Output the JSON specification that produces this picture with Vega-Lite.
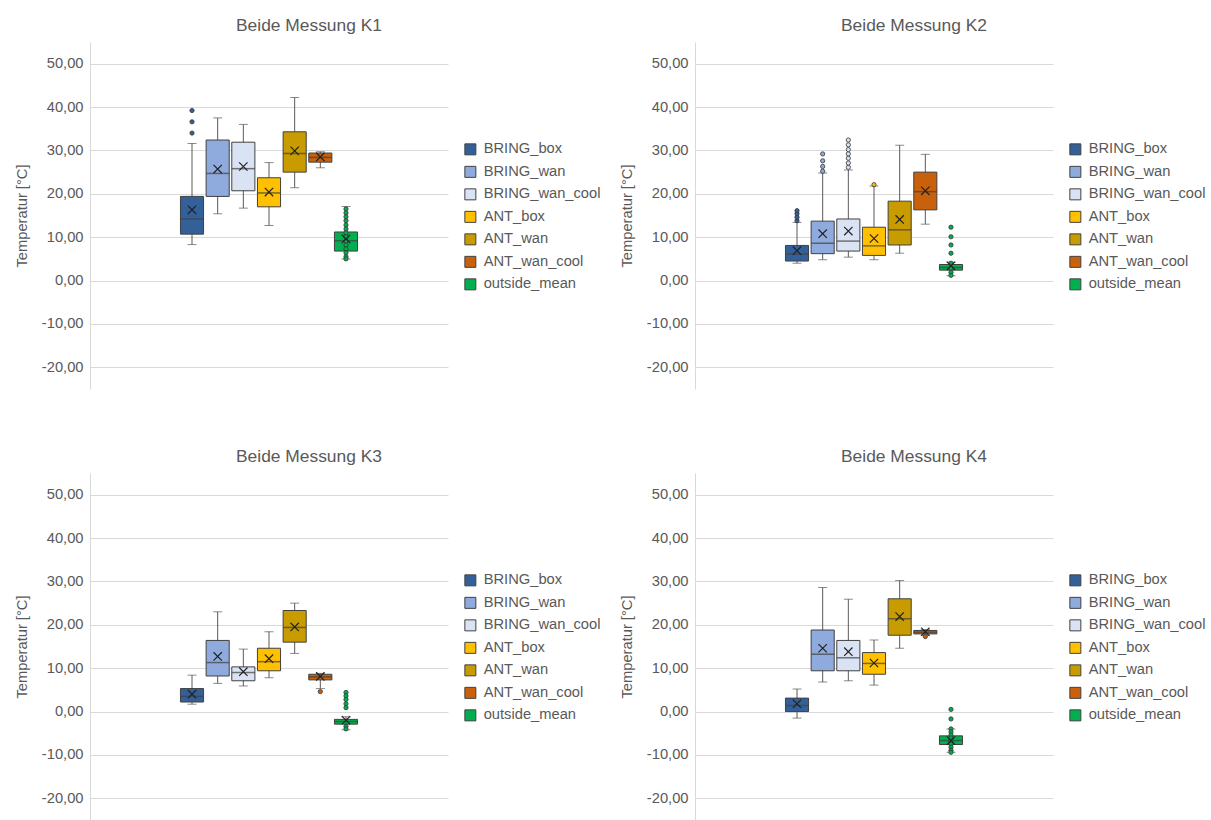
{
 "$schema": "https://vega.github.io/schema/vega-lite/v6.json",
 "padding": {"left": 14, "top": 16, "right": 0, "bottom": 0},
 "datasets": {
  "all": [
   {"panel":"K1","t":"box","series":"BRING_box","lo":8.3,"q1":10.7,"med":14.2,"q3":19.4,"hi":31.6,"mean":16.3},
   {"panel":"K1","t":"box","series":"BRING_wan","lo":15.4,"q1":19.4,"med":24.7,"q3":32.4,"hi":37.5,"mean":25.7},
   {"panel":"K1","t":"box","series":"BRING_wan_cool","lo":16.7,"q1":20.7,"med":25.8,"q3":31.9,"hi":36.0,"mean":26.3},
   {"panel":"K1","t":"box","series":"ANT_box","lo":12.7,"q1":17.0,"med":20.2,"q3":23.7,"hi":27.2,"mean":20.4},
   {"panel":"K1","t":"box","series":"ANT_wan","lo":21.4,"q1":25.0,"med":29.3,"q3":34.3,"hi":42.2,"mean":29.9},
   {"panel":"K1","t":"box","series":"ANT_wan_cool","lo":26.0,"q1":27.3,"med":28.4,"q3":29.4,"hi":29.7,"mean":28.5},
   {"panel":"K1","t":"box","series":"outside_mean","lo":5.0,"q1":6.8,"med":9.2,"q3":11.2,"hi":17.1,"mean":9.6},
   {"panel":"K1","t":"pt","series":"BRING_box","v":34.0},
   {"panel":"K1","t":"pt","series":"BRING_box","v":36.6},
   {"panel":"K1","t":"pt","series":"BRING_box","v":39.2},
   {"panel":"K1","t":"pt","series":"outside_mean","v":16.5},
   {"panel":"K1","t":"pt","series":"outside_mean","v":15.6},
   {"panel":"K1","t":"pt","series":"outside_mean","v":14.7},
   {"panel":"K1","t":"pt","series":"outside_mean","v":13.8},
   {"panel":"K1","t":"pt","series":"outside_mean","v":12.8},
   {"panel":"K1","t":"pt","series":"outside_mean","v":11.9},
   {"panel":"K1","t":"pt","series":"outside_mean","v":11.0},
   {"panel":"K1","t":"pt","series":"outside_mean","v":10.1},
   {"panel":"K1","t":"pt","series":"outside_mean","v":9.1},
   {"panel":"K1","t":"pt","series":"outside_mean","v":8.2},
   {"panel":"K1","t":"pt","series":"outside_mean","v":7.3},
   {"panel":"K1","t":"pt","series":"outside_mean","v":6.4},
   {"panel":"K1","t":"pt","series":"outside_mean","v":5.5},
   {"panel":"K1","t":"pt","series":"outside_mean","v":5.0},

   {"panel":"K2","t":"box","series":"BRING_box","lo":4.0,"q1":4.5,"med":6.1,"q3":8.1,"hi":13.4,"mean":6.9},
   {"panel":"K2","t":"box","series":"BRING_wan","lo":4.8,"q1":6.2,"med":8.6,"q3":13.7,"hi":24.8,"mean":10.8},
   {"panel":"K2","t":"box","series":"BRING_wan_cool","lo":5.4,"q1":6.8,"med":9.1,"q3":14.2,"hi":25.5,"mean":11.4},
   {"panel":"K2","t":"box","series":"ANT_box","lo":4.8,"q1":5.8,"med":8.0,"q3":12.3,"hi":21.8,"mean":9.7},
   {"panel":"K2","t":"box","series":"ANT_wan","lo":6.3,"q1":8.2,"med":11.7,"q3":18.3,"hi":31.2,"mean":14.1},
   {"panel":"K2","t":"box","series":"ANT_wan_cool","lo":13.0,"q1":16.3,"med":20.5,"q3":25.0,"hi":29.1,"mean":20.7},
   {"panel":"K2","t":"box","series":"outside_mean","lo":1.1,"q1":2.4,"med":3.0,"q3":3.7,"hi":4.2,"mean":3.4},
   {"panel":"K2","t":"pt","series":"BRING_box","v":13.8},
   {"panel":"K2","t":"pt","series":"BRING_box","v":14.6},
   {"panel":"K2","t":"pt","series":"BRING_box","v":15.4},
   {"panel":"K2","t":"pt","series":"BRING_box","v":16.1},
   {"panel":"K2","t":"pt","series":"BRING_wan","v":25.2},
   {"panel":"K2","t":"pt","series":"BRING_wan","v":26.3},
   {"panel":"K2","t":"pt","series":"BRING_wan","v":27.6},
   {"panel":"K2","t":"pt","series":"BRING_wan","v":29.2},
   {"panel":"K2","t":"pt","series":"BRING_wan_cool","v":26.1},
   {"panel":"K2","t":"pt","series":"BRING_wan_cool","v":27.1},
   {"panel":"K2","t":"pt","series":"BRING_wan_cool","v":28.2},
   {"panel":"K2","t":"pt","series":"BRING_wan_cool","v":29.2},
   {"panel":"K2","t":"pt","series":"BRING_wan_cool","v":30.2},
   {"panel":"K2","t":"pt","series":"BRING_wan_cool","v":31.3},
   {"panel":"K2","t":"pt","series":"BRING_wan_cool","v":32.4},
   {"panel":"K2","t":"pt","series":"ANT_box","v":22.1},
   {"panel":"K2","t":"pt","series":"outside_mean","v":12.3},
   {"panel":"K2","t":"pt","series":"outside_mean","v":10.1},
   {"panel":"K2","t":"pt","series":"outside_mean","v":8.2},
   {"panel":"K2","t":"pt","series":"outside_mean","v":6.3},
   {"panel":"K2","t":"pt","series":"outside_mean","v":4.0},
   {"panel":"K2","t":"pt","series":"outside_mean","v":2.8},
   {"panel":"K2","t":"pt","series":"outside_mean","v":1.9},
   {"panel":"K2","t":"pt","series":"outside_mean","v":1.2},

   {"panel":"K3","t":"box","series":"BRING_box","lo":1.7,"q1":2.2,"med":3.5,"q3":5.3,"hi":8.4,"mean":4.0},
   {"panel":"K3","t":"box","series":"BRING_wan","lo":6.5,"q1":8.2,"med":11.3,"q3":16.4,"hi":23.0,"mean":12.7},
   {"panel":"K3","t":"box","series":"BRING_wan_cool","lo":5.9,"q1":7.1,"med":9.0,"q3":10.3,"hi":14.4,"mean":9.2},
   {"panel":"K3","t":"box","series":"ANT_box","lo":7.8,"q1":9.4,"med":11.5,"q3":14.6,"hi":18.4,"mean":12.2},
   {"panel":"K3","t":"box","series":"ANT_wan","lo":13.4,"q1":16.0,"med":19.4,"q3":23.3,"hi":25.0,"mean":19.5},
   {"panel":"K3","t":"box","series":"ANT_wan_cool","lo":5.3,"q1":7.3,"med":8.0,"q3":8.6,"hi":8.8,"mean":8.1},
   {"panel":"K3","t":"box","series":"outside_mean","lo":-4.2,"q1":-2.9,"med":-2.3,"q3":-1.8,"hi":-1.2,"mean":-2.0},
   {"panel":"K3","t":"pt","series":"ANT_wan_cool","v":4.6},
   {"panel":"K3","t":"pt","series":"outside_mean","v":4.4},
   {"panel":"K3","t":"pt","series":"outside_mean","v":3.6},
   {"panel":"K3","t":"pt","series":"outside_mean","v":2.8},
   {"panel":"K3","t":"pt","series":"outside_mean","v":1.8},
   {"panel":"K3","t":"pt","series":"outside_mean","v":0.9},
   {"panel":"K3","t":"pt","series":"outside_mean","v":-3.4},
   {"panel":"K3","t":"pt","series":"outside_mean","v":-4.0},

   {"panel":"K4","t":"box","series":"BRING_box","lo":-1.5,"q1":0.0,"med":1.4,"q3":3.1,"hi":5.2,"mean":1.8},
   {"panel":"K4","t":"box","series":"BRING_wan","lo":6.8,"q1":9.4,"med":13.2,"q3":18.8,"hi":28.6,"mean":14.6},
   {"panel":"K4","t":"box","series":"BRING_wan_cool","lo":7.1,"q1":9.4,"med":12.4,"q3":16.4,"hi":25.9,"mean":13.8},
   {"panel":"K4","t":"box","series":"ANT_box","lo":6.1,"q1":8.6,"med":11.1,"q3":13.6,"hi":16.5,"mean":11.2},
   {"panel":"K4","t":"box","series":"ANT_wan","lo":14.6,"q1":17.6,"med":21.4,"q3":26.0,"hi":30.2,"mean":21.9},
   {"panel":"K4","t":"box","series":"ANT_wan_cool","lo":17.6,"q1":17.9,"med":18.3,"q3":18.7,"hi":18.9,"mean":18.4},
   {"panel":"K4","t":"box","series":"outside_mean","lo":-9.4,"q1":-7.6,"med":-6.7,"q3":-5.6,"hi":-4.0,"mean":-6.7},
   {"panel":"K4","t":"pt","series":"ANT_wan_cool","v":17.3},
   {"panel":"K4","t":"pt","series":"outside_mean","v":0.5},
   {"panel":"K4","t":"pt","series":"outside_mean","v":-1.7},
   {"panel":"K4","t":"pt","series":"outside_mean","v":-4.0},
   {"panel":"K4","t":"pt","series":"outside_mean","v":-4.7},
   {"panel":"K4","t":"pt","series":"outside_mean","v":-5.4},
   {"panel":"K4","t":"pt","series":"outside_mean","v":-6.1},
   {"panel":"K4","t":"pt","series":"outside_mean","v":-6.8},
   {"panel":"K4","t":"pt","series":"outside_mean","v":-7.5},
   {"panel":"K4","t":"pt","series":"outside_mean","v":-8.2},
   {"panel":"K4","t":"pt","series":"outside_mean","v":-8.9},
   {"panel":"K4","t":"pt","series":"outside_mean","v":-9.4}
  ]
 },
 "config": {
  "font": "Liberation Sans",
  "view": {"stroke": null},
  "title": {"fontSize": 17.4, "fontWeight": "normal", "color": "#595959", "offset": 8, "anchor": "middle", "dx": 40},
  "axisY": {"gridColor": "#d9d9d9", "domainColor": "#d9d9d9", "ticks": false, "labelColor": "#595959", "labelFontSize": 14.7, "titleColor": "#595959", "titleFontSize": 14.7, "titleFontWeight": "normal", "labelPadding": 7, "titlePadding": 12},
  "legend": {"labelFontSize": 14.7, "labelColor": "#595959", "symbolType": "square", "symbolSize": 121, "symbolStrokeColor": "#404040", "symbolStrokeWidth": 1, "rowPadding": 6.5, "labelOffset": 6, "padding": 0},
  "locale": {"number": {"decimal": ",", "thousands": ".", "grouping": [3], "currency": ["", " €"], "minus": "-"}}
 },
 "spacing": 58,
 "resolve": {"scale": {"color": "independent", "x": "independent", "y": "independent"}},
 "vconcat": [
  {"spacing": 18, "resolve": {"scale": {"color": "independent", "x": "independent", "y": "independent"}},
   "hconcat": [
    {"title": "Beide Messung K1", "width": 358, "height": 347,
     "data": {"name": "all"}, "transform": [{"filter": "datum.panel === 'K1'"}],
     "layer": [
      {"transform": [{"filter": "datum.t === 'box'"}], "mark": {"type": "rule", "color": "#595959", "strokeWidth": 1},
       "encoding": {"x": {"field": "series", "type": "nominal", "scale": {"domain": ["pad1","pad2","pad3","BRING_box","BRING_wan","BRING_wan_cool","ANT_box","ANT_wan","ANT_wan_cool","outside_mean","pad4","pad5","pad6"], "paddingInner": 0.1, "paddingOuter": 0.525}, "axis": null},
        "y": {"field": "lo", "type": "quantitative", "title": "Temperatur [°C]", "scale": {"domain": [-25, 55], "nice": false, "zero": false}, "axis": {"values": [-20,-10,0,10,20,30,40,50], "format": ".2f", "grid": true}},
        "y2": {"field": "hi"}}},
      {"transform": [{"filter": "datum.t === 'box'"}], "mark": {"type": "tick", "color": "#595959", "size": 9, "thickness": 1},
       "encoding": {"x": {"field": "series", "type": "nominal"}, "y": {"field": "lo", "type": "quantitative", "title": "Temperatur [°C]"}}},
      {"transform": [{"filter": "datum.t === 'box'"}], "mark": {"type": "tick", "color": "#595959", "size": 9, "thickness": 1},
       "encoding": {"x": {"field": "series", "type": "nominal"}, "y": {"field": "hi", "type": "quantitative", "title": "Temperatur [°C]"}}},
      {"transform": [{"filter": "datum.t === 'box'"}], "mark": {"type": "bar", "stroke": "#404040", "strokeWidth": 1},
       "encoding": {"x": {"field": "series", "type": "nominal"}, "y": {"field": "q1", "type": "quantitative", "title": "Temperatur [°C]"}, "y2": {"field": "q3"},
        "color": {"field": "series", "type": "nominal", "scale": {"domain": ["BRING_box","BRING_wan","BRING_wan_cool","ANT_box","ANT_wan","ANT_wan_cool","outside_mean"], "range": ["#34609A","#8FAADC","#DAE3F3","#FFC000","#C89B00","#C9600C","#00B050"]},
         "legend": {"orient": "none", "legendX": 373, "legendY": 100, "title": null, "symbolType": "square", "symbolStrokeColor": "#404040"}}}},
      {"transform": [{"filter": "datum.t === 'box'"}], "mark": {"type": "tick", "color": "#404040", "size": 23, "thickness": 1.5},
       "encoding": {"x": {"field": "series", "type": "nominal"}, "y": {"field": "med", "type": "quantitative", "title": "Temperatur [°C]"}}},
      {"transform": [{"filter": "datum.t === 'pt'"}], "mark": {"type": "point", "filled": true, "size": 18, "stroke": "#333333", "strokeWidth": 0.8, "opacity": 1},
       "encoding": {"x": {"field": "series", "type": "nominal"}, "y": {"field": "v", "type": "quantitative", "title": "Temperatur [°C]"}, "color": {"field": "series", "type": "nominal"}}},
      {"transform": [{"filter": "datum.t === 'box'"}], "mark": {"type": "point", "shape": "M-1,-1L1,1M-1,1L1,-1", "size": 70, "filled": false, "stroke": "#222222", "strokeWidth": 1.2, "opacity": 1},
       "encoding": {"x": {"field": "series", "type": "nominal"}, "y": {"field": "mean", "type": "quantitative", "title": "Temperatur [°C]"}}}
     ]},
    {"title": "Beide Messung K2", "width": 358, "height": 347,
     "data": {"name": "all"}, "transform": [{"filter": "datum.panel === 'K2'"}],
     "layer": [
      {"transform": [{"filter": "datum.t === 'box'"}], "mark": {"type": "rule", "color": "#595959", "strokeWidth": 1},
       "encoding": {"x": {"field": "series", "type": "nominal", "scale": {"domain": ["pad1","pad2","pad3","BRING_box","BRING_wan","BRING_wan_cool","ANT_box","ANT_wan","ANT_wan_cool","outside_mean","pad4","pad5","pad6"], "paddingInner": 0.1, "paddingOuter": 0.525}, "axis": null},
        "y": {"field": "lo", "type": "quantitative", "title": "Temperatur [°C]", "scale": {"domain": [-25, 55], "nice": false, "zero": false}, "axis": {"values": [-20,-10,0,10,20,30,40,50], "format": ".2f", "grid": true}},
        "y2": {"field": "hi"}}},
      {"transform": [{"filter": "datum.t === 'box'"}], "mark": {"type": "tick", "color": "#595959", "size": 9, "thickness": 1},
       "encoding": {"x": {"field": "series", "type": "nominal"}, "y": {"field": "lo", "type": "quantitative", "title": "Temperatur [°C]"}}},
      {"transform": [{"filter": "datum.t === 'box'"}], "mark": {"type": "tick", "color": "#595959", "size": 9, "thickness": 1},
       "encoding": {"x": {"field": "series", "type": "nominal"}, "y": {"field": "hi", "type": "quantitative", "title": "Temperatur [°C]"}}},
      {"transform": [{"filter": "datum.t === 'box'"}], "mark": {"type": "bar", "stroke": "#404040", "strokeWidth": 1},
       "encoding": {"x": {"field": "series", "type": "nominal"}, "y": {"field": "q1", "type": "quantitative", "title": "Temperatur [°C]"}, "y2": {"field": "q3"},
        "color": {"field": "series", "type": "nominal", "scale": {"domain": ["BRING_box","BRING_wan","BRING_wan_cool","ANT_box","ANT_wan","ANT_wan_cool","outside_mean"], "range": ["#34609A","#8FAADC","#DAE3F3","#FFC000","#C89B00","#C9600C","#00B050"]},
         "legend": {"orient": "none", "legendX": 373, "legendY": 100, "title": null, "symbolType": "square", "symbolStrokeColor": "#404040"}}}},
      {"transform": [{"filter": "datum.t === 'box'"}], "mark": {"type": "tick", "color": "#404040", "size": 23, "thickness": 1.5},
       "encoding": {"x": {"field": "series", "type": "nominal"}, "y": {"field": "med", "type": "quantitative", "title": "Temperatur [°C]"}}},
      {"transform": [{"filter": "datum.t === 'pt'"}], "mark": {"type": "point", "filled": true, "size": 18, "stroke": "#333333", "strokeWidth": 0.8, "opacity": 1},
       "encoding": {"x": {"field": "series", "type": "nominal"}, "y": {"field": "v", "type": "quantitative", "title": "Temperatur [°C]"}, "color": {"field": "series", "type": "nominal"}}},
      {"transform": [{"filter": "datum.t === 'box'"}], "mark": {"type": "point", "shape": "M-1,-1L1,1M-1,1L1,-1", "size": 70, "filled": false, "stroke": "#222222", "strokeWidth": 1.2, "opacity": 1},
       "encoding": {"x": {"field": "series", "type": "nominal"}, "y": {"field": "mean", "type": "quantitative", "title": "Temperatur [°C]"}}}
     ]}
   ]},
  {"spacing": 18, "resolve": {"scale": {"color": "independent", "x": "independent", "y": "independent"}},
   "hconcat": [
    {"title": "Beide Messung K3", "width": 358, "height": 347,
     "data": {"name": "all"}, "transform": [{"filter": "datum.panel === 'K3'"}],
     "layer": [
      {"transform": [{"filter": "datum.t === 'box'"}], "mark": {"type": "rule", "color": "#595959", "strokeWidth": 1},
       "encoding": {"x": {"field": "series", "type": "nominal", "scale": {"domain": ["pad1","pad2","pad3","BRING_box","BRING_wan","BRING_wan_cool","ANT_box","ANT_wan","ANT_wan_cool","outside_mean","pad4","pad5","pad6"], "paddingInner": 0.1, "paddingOuter": 0.525}, "axis": null},
        "y": {"field": "lo", "type": "quantitative", "title": "Temperatur [°C]", "scale": {"domain": [-25, 55], "nice": false, "zero": false}, "axis": {"values": [-20,-10,0,10,20,30,40,50], "format": ".2f", "grid": true}},
        "y2": {"field": "hi"}}},
      {"transform": [{"filter": "datum.t === 'box'"}], "mark": {"type": "tick", "color": "#595959", "size": 9, "thickness": 1},
       "encoding": {"x": {"field": "series", "type": "nominal"}, "y": {"field": "lo", "type": "quantitative", "title": "Temperatur [°C]"}}},
      {"transform": [{"filter": "datum.t === 'box'"}], "mark": {"type": "tick", "color": "#595959", "size": 9, "thickness": 1},
       "encoding": {"x": {"field": "series", "type": "nominal"}, "y": {"field": "hi", "type": "quantitative", "title": "Temperatur [°C]"}}},
      {"transform": [{"filter": "datum.t === 'box'"}], "mark": {"type": "bar", "stroke": "#404040", "strokeWidth": 1},
       "encoding": {"x": {"field": "series", "type": "nominal"}, "y": {"field": "q1", "type": "quantitative", "title": "Temperatur [°C]"}, "y2": {"field": "q3"},
        "color": {"field": "series", "type": "nominal", "scale": {"domain": ["BRING_box","BRING_wan","BRING_wan_cool","ANT_box","ANT_wan","ANT_wan_cool","outside_mean"], "range": ["#34609A","#8FAADC","#DAE3F3","#FFC000","#C89B00","#C9600C","#00B050"]},
         "legend": {"orient": "none", "legendX": 373, "legendY": 100, "title": null, "symbolType": "square", "symbolStrokeColor": "#404040"}}}},
      {"transform": [{"filter": "datum.t === 'box'"}], "mark": {"type": "tick", "color": "#404040", "size": 23, "thickness": 1.5},
       "encoding": {"x": {"field": "series", "type": "nominal"}, "y": {"field": "med", "type": "quantitative", "title": "Temperatur [°C]"}}},
      {"transform": [{"filter": "datum.t === 'pt'"}], "mark": {"type": "point", "filled": true, "size": 18, "stroke": "#333333", "strokeWidth": 0.8, "opacity": 1},
       "encoding": {"x": {"field": "series", "type": "nominal"}, "y": {"field": "v", "type": "quantitative", "title": "Temperatur [°C]"}, "color": {"field": "series", "type": "nominal"}}},
      {"transform": [{"filter": "datum.t === 'box'"}], "mark": {"type": "point", "shape": "M-1,-1L1,1M-1,1L1,-1", "size": 70, "filled": false, "stroke": "#222222", "strokeWidth": 1.2, "opacity": 1},
       "encoding": {"x": {"field": "series", "type": "nominal"}, "y": {"field": "mean", "type": "quantitative", "title": "Temperatur [°C]"}}}
     ]},
    {"title": "Beide Messung K4", "width": 358, "height": 347,
     "data": {"name": "all"}, "transform": [{"filter": "datum.panel === 'K4'"}],
     "layer": [
      {"transform": [{"filter": "datum.t === 'box'"}], "mark": {"type": "rule", "color": "#595959", "strokeWidth": 1},
       "encoding": {"x": {"field": "series", "type": "nominal", "scale": {"domain": ["pad1","pad2","pad3","BRING_box","BRING_wan","BRING_wan_cool","ANT_box","ANT_wan","ANT_wan_cool","outside_mean","pad4","pad5","pad6"], "paddingInner": 0.1, "paddingOuter": 0.525}, "axis": null},
        "y": {"field": "lo", "type": "quantitative", "title": "Temperatur [°C]", "scale": {"domain": [-25, 55], "nice": false, "zero": false}, "axis": {"values": [-20,-10,0,10,20,30,40,50], "format": ".2f", "grid": true}},
        "y2": {"field": "hi"}}},
      {"transform": [{"filter": "datum.t === 'box'"}], "mark": {"type": "tick", "color": "#595959", "size": 9, "thickness": 1},
       "encoding": {"x": {"field": "series", "type": "nominal"}, "y": {"field": "lo", "type": "quantitative", "title": "Temperatur [°C]"}}},
      {"transform": [{"filter": "datum.t === 'box'"}], "mark": {"type": "tick", "color": "#595959", "size": 9, "thickness": 1},
       "encoding": {"x": {"field": "series", "type": "nominal"}, "y": {"field": "hi", "type": "quantitative", "title": "Temperatur [°C]"}}},
      {"transform": [{"filter": "datum.t === 'box'"}], "mark": {"type": "bar", "stroke": "#404040", "strokeWidth": 1},
       "encoding": {"x": {"field": "series", "type": "nominal"}, "y": {"field": "q1", "type": "quantitative", "title": "Temperatur [°C]"}, "y2": {"field": "q3"},
        "color": {"field": "series", "type": "nominal", "scale": {"domain": ["BRING_box","BRING_wan","BRING_wan_cool","ANT_box","ANT_wan","ANT_wan_cool","outside_mean"], "range": ["#34609A","#8FAADC","#DAE3F3","#FFC000","#C89B00","#C9600C","#00B050"]},
         "legend": {"orient": "none", "legendX": 373, "legendY": 100, "title": null, "symbolType": "square", "symbolStrokeColor": "#404040"}}}},
      {"transform": [{"filter": "datum.t === 'box'"}], "mark": {"type": "tick", "color": "#404040", "size": 23, "thickness": 1.5},
       "encoding": {"x": {"field": "series", "type": "nominal"}, "y": {"field": "med", "type": "quantitative", "title": "Temperatur [°C]"}}},
      {"transform": [{"filter": "datum.t === 'pt'"}], "mark": {"type": "point", "filled": true, "size": 18, "stroke": "#333333", "strokeWidth": 0.8, "opacity": 1},
       "encoding": {"x": {"field": "series", "type": "nominal"}, "y": {"field": "v", "type": "quantitative", "title": "Temperatur [°C]"}, "color": {"field": "series", "type": "nominal"}}},
      {"transform": [{"filter": "datum.t === 'box'"}], "mark": {"type": "point", "shape": "M-1,-1L1,1M-1,1L1,-1", "size": 70, "filled": false, "stroke": "#222222", "strokeWidth": 1.2, "opacity": 1},
       "encoding": {"x": {"field": "series", "type": "nominal"}, "y": {"field": "mean", "type": "quantitative", "title": "Temperatur [°C]"}}}
     ]}
   ]}
 ]
}
